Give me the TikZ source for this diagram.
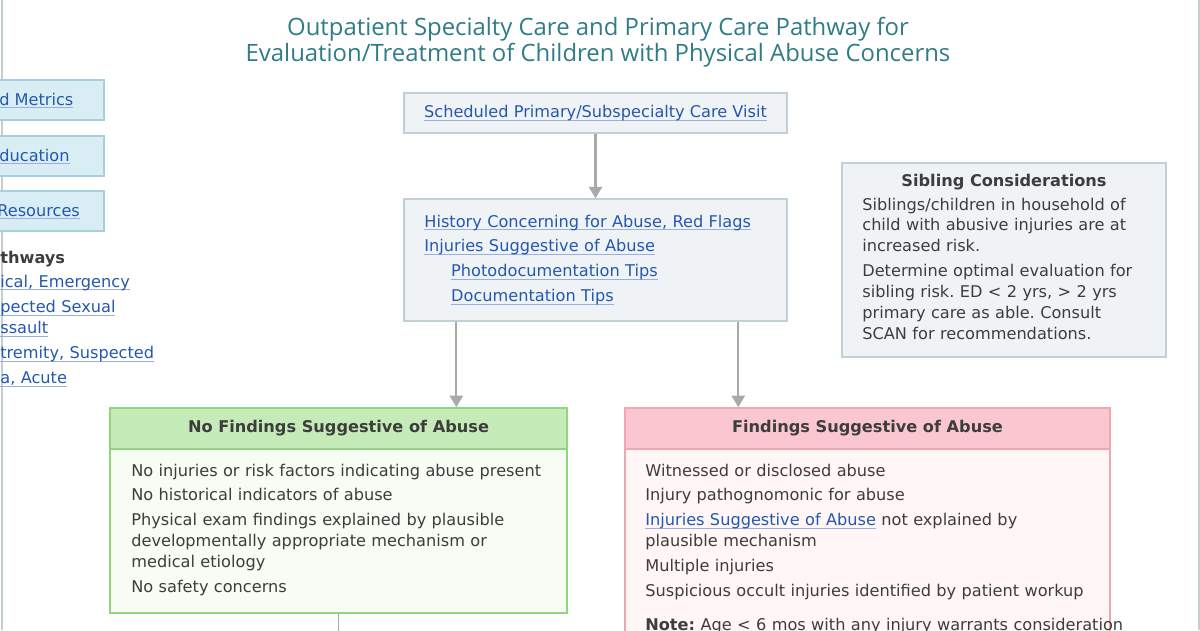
\documentclass[tikz,border=0pt]{standalone}
\usepackage{fontspec}
\setmainfont{DejaVu Sans}
\newfontfamily\titlefont{Open Sans}
\usetikzlibrary{arrows.meta}
\definecolor{titleteal}{HTML}{2F7C86}
\definecolor{linkblue}{HTML}{2458B0}
\definecolor{ullight}{HTML}{9AAEE0}
\definecolor{bodygray}{HTML}{3D3D3D}
\definecolor{boxgray}{HTML}{F0F3F5}
\definecolor{boxline}{HTML}{C2CFD5}
\definecolor{navblue}{HTML}{D8EEF4}
\definecolor{navline}{HTML}{A8D0DC}
\definecolor{okfill}{HTML}{C5EBB8}
\definecolor{okbody}{HTML}{F7FCF4}
\definecolor{okline}{HTML}{8FD67D}
\definecolor{badfill}{HTML}{FAC7D0}
\definecolor{badbody}{HTML}{FFF6F5}
\definecolor{badline}{HTML}{F3A6AF}
\definecolor{arrgray}{HTML}{A9A9A9}
\definecolor{edgegray}{HTML}{C4CED2}
\newcommand\bodyfont{\fontsize{9.2}{11.9}\selectfont\frenchspacing}
\newsavebox\lnkbox
\newcommand\lnk[1]{\leavevmode\sbox\lnkbox{\textcolor{linkblue}{#1}}\rlap{\textcolor{ullight}{\rule[-1.7pt]{\wd\lnkbox}{0.5pt}}}\usebox\lnkbox}

\begin{document}
\begin{tikzpicture}[x=0.02cm,y=-0.02cm,
  every node/.style={font=\bodyfont,text=bodygray,inner sep=0pt},
  box/.style={draw=boxline,fill=boxgray,line width=0.8pt},
  navbox/.style={draw=navline,fill=navblue,line width=0.8pt,minimum width=2.48cm,minimum height=0.8cm},
  okbox/.style={draw=okline,fill=okbody,line width=1pt,minimum width=9.14cm},
  badbox/.style={draw=badline,fill=badbody,line width=1pt,minimum width=9.7cm},
  txt/.style={anchor=base west,align=left},
  arr/.style={draw=arrgray,line width=1.2pt,-{Triangle[width=7.5pt,length=6.5pt]}}]
  \useasboundingbox (0,0) rectangle (1200,630);
  \clip (0,0) rectangle (1200,630);
  \draw[edgegray,line width=1.2pt] (2,0) -- (2,630);
  \node[font=\titlefont\fontsize{13.6}{14.7}\selectfont,text=titleteal,align=center] (title) at (598,42) {Outpatient Specialty Care and Primary Care Pathway for\\Evaluation/Treatment of Children with Physical Abuse Concerns};
  \node[navbox] (nav1) at (42,100) {};
  \node[txt] (nav1t) at (-1,105) {\lnk{d Metrics}};
  \node[navbox] (nav2) at (42,156) {};
  \node[txt] (nav2t) at (-1,161) {\lnk{ducation}};
  \node[navbox] (nav3) at (42,211) {};
  \node[txt] (nav3t) at (-3,216) {\lnk{Resources}};
  \node[txt,font=\bodyfont\bfseries] (paths) at (0,263) {thways};
  \node[txt,text width=4cm] (pathlinks) at (0,287) {\lnk{ical, Emergency}\\[2.8pt]\lnk{pected Sexual}\\\lnk{ssault}\\[2.3pt]\lnk{tremity, Suspected}\\[2.3pt]\lnk{a, Acute}};
  \node[box,minimum width=7.66cm,minimum height=0.8cm] (visit) at (595.5,113) {\lnk{Scheduled Primary/Subspecialty Care Visit}};
  \node[box,minimum width=7.66cm,minimum height=2.44cm] (hist) at (595.5,260) {};
  \node[txt,text width=7cm] (histt) at (424,227) {\lnk{History Concerning for Abuse, Red Flags}\\[2.3pt]\lnk{Injuries Suggestive of Abuse}\\[2.3pt]\hspace*{15.3pt}\lnk{Photodocumentation Tips}\\[2.3pt]\hspace*{15.3pt}\lnk{Documentation Tips}};
  \node[box,minimum width=6.48cm,minimum height=3.88cm] (sib) at (1004,260) {};
  \node[anchor=base,font=\bodyfont\bfseries] (sibt) at (1004,186) {Sibling Considerations};
  \node[txt,text width=6cm] (sibb) at (862,210) {Siblings/children in household of\\child with abusive injuries are at\\increased risk.\\[2.3pt]Determine optimal evaluation for\\sibling risk. ED < 2 yrs, > 2 yrs\\primary care as able. Consult\\SCAN for recommendations.};
  \node[okbox,minimum height=3.28cm] (nobody) at (338.5,531) {};
  \node[okbox,fill=okfill,minimum height=0.82cm,font=\bodyfont\bfseries] (nohead) at (338.5,428.5) {No Findings Suggestive of Abuse};
  \node[txt,text width=8.6cm] (nolist) at (131,476) {No injuries or risk factors indicating abuse present\\[2.3pt]No historical indicators of abuse\\[2.3pt]Physical exam findings explained by plausible\\developmentally appropriate mechanism or\\medical etiology\\[2.3pt]No safety concerns};
  \node[badbox,minimum height=4.02cm] (yesbody) at (867.5,549.5) {};
  \node[badbox,fill=badfill,minimum height=0.82cm,font=\bodyfont\bfseries] (yeshead) at (867.5,428.5) {Findings Suggestive of Abuse};
  \node[txt,text width=10.5cm] (yeslist) at (645,476) {Witnessed or disclosed abuse\\[2.3pt]Injury pathognomonic for abuse\\[2.3pt]\lnk{Injuries Suggestive of Abuse} not explained by\\plausible mechanism\\[2.3pt]Multiple injuries\\[2.3pt]Suspicious occult injuries identified by patient workup\\[7.4pt]\textbf{Note:} Age < 6 mos with any injury warrants consideration};
  \coordinate (down) at (338.5,640);
  \draw[arr] (visit) -- (hist);
  \draw[arr] ([xshift=1.06cm]hist.south west) -- ([xshift=1.06cm]hist.south west |- nohead.north);
  \draw[arr] ([xshift=6.7cm]hist.south west) -- ([xshift=6.7cm]hist.south west |- yeshead.north);
  \draw[arrgray,line width=1pt] (nobody.south) -- (down);
  \draw[edgegray,line width=1.2pt] (1199,0) -- (1199,630);
\end{tikzpicture}
\end{document}
